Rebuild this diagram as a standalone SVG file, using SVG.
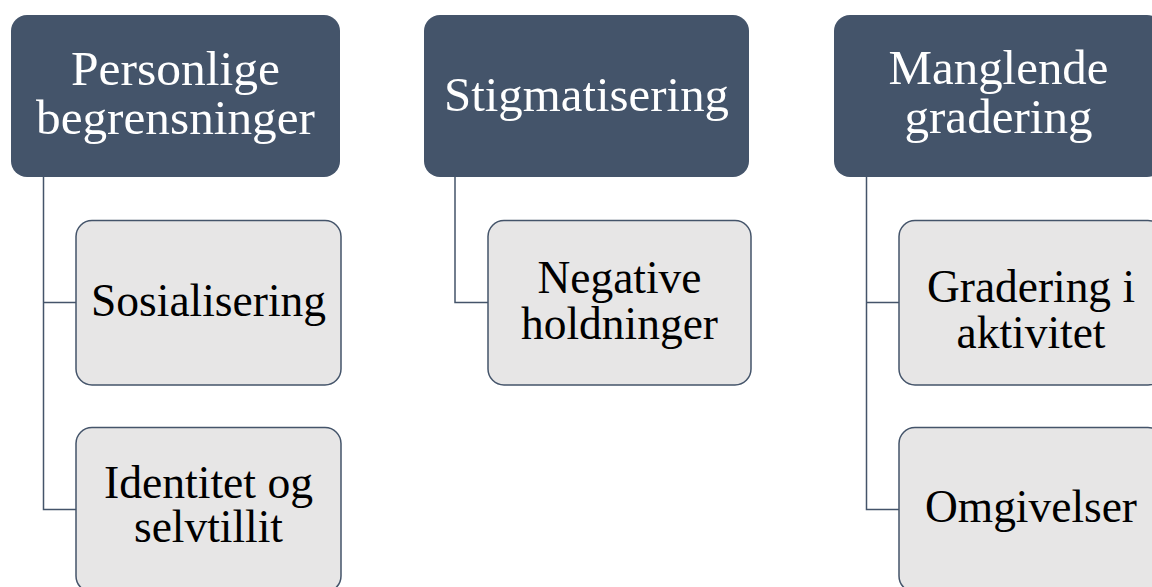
<svg xmlns="http://www.w3.org/2000/svg" width="1152" height="587" viewBox="0 0 1152 587">
<style>
.hdr{fill:#44546a;}
.chd{fill:#e7e6e6;stroke:#44546a;stroke-width:1.5;}
text{font-family:"Liberation Serif",Tinos,"Times New Roman",Times,"Noto Serif","DejaVu Serif",serif;text-anchor:middle;}
.ht{font-size:49px;fill:#ffffff;}
.ct{font-size:45.5px;fill:#000000;}
.con{fill:none;stroke:#44546a;stroke-width:1.5;}
</style>
<rect width="1152" height="587" fill="#ffffff"/>
<g id="connectors">
<path class="con" d="M43.5 177 V509.5 H76 M43.5 302.5 H76"/>
<path class="con" d="M455 177 V302.5 H488"/>
<path class="con" d="M866.5 177 V509.5 H899 M866.5 302.5 H899"/>
</g>
<g id="h1">
<rect class="hdr" x="11" y="15" width="329" height="162" rx="16"/>
<text class="ht" x="175.5" y="85" textLength="209" lengthAdjust="spacingAndGlyphs">Personlige</text>
<text class="ht" x="175.5" y="134" textLength="279" lengthAdjust="spacingAndGlyphs">begrensninger</text>
</g>
<g id="c1a">
<rect class="chd" x="76" y="220.5" width="265" height="164.5" rx="16"/>
<text class="ct" x="208.5" y="316" textLength="235" lengthAdjust="spacingAndGlyphs">Sosialisering</text>
</g>
<g id="c1b">
<rect class="chd" x="76" y="427.5" width="265" height="164.5" rx="16"/>
<text class="ct" x="208.5" y="498" textLength="209" lengthAdjust="spacingAndGlyphs">Identitet og</text>
<text class="ct" x="208.5" y="542" textLength="149" lengthAdjust="spacingAndGlyphs">selvtillit</text>
</g>
<g id="h2">
<rect class="hdr" x="424" y="15" width="325" height="162" rx="16"/>
<text class="ht" x="586.5" y="111" textLength="285" lengthAdjust="spacingAndGlyphs">Stigmatisering</text>
</g>
<g id="c2a">
<rect class="chd" x="488" y="220.5" width="263" height="164.5" rx="16"/>
<text class="ct" x="619.5" y="293" textLength="164" lengthAdjust="spacingAndGlyphs">Negative</text>
<text class="ct" x="619.5" y="339" textLength="197" lengthAdjust="spacingAndGlyphs">holdninger</text>
</g>
<g id="h3">
<rect class="hdr" x="834" y="15" width="329" height="162" rx="16"/>
<text class="ht" x="998.5" y="84" textLength="220" lengthAdjust="spacingAndGlyphs">Manglende</text>
<text class="ht" x="998.5" y="133" textLength="188" lengthAdjust="spacingAndGlyphs">gradering</text>
</g>
<g id="c3a">
<rect class="chd" x="899" y="220.5" width="265" height="164.5" rx="16"/>
<text class="ct" x="1031" y="302" textLength="208" lengthAdjust="spacingAndGlyphs">Gradering i</text>
<text class="ct" x="1031" y="348" textLength="149" lengthAdjust="spacingAndGlyphs">aktivitet</text>
</g>
<g id="c3b">
<rect class="chd" x="899" y="427.5" width="265" height="164.5" rx="16"/>
<text class="ct" x="1031" y="522" textLength="212" lengthAdjust="spacingAndGlyphs">Omgivelser</text>
</g>
</svg>
